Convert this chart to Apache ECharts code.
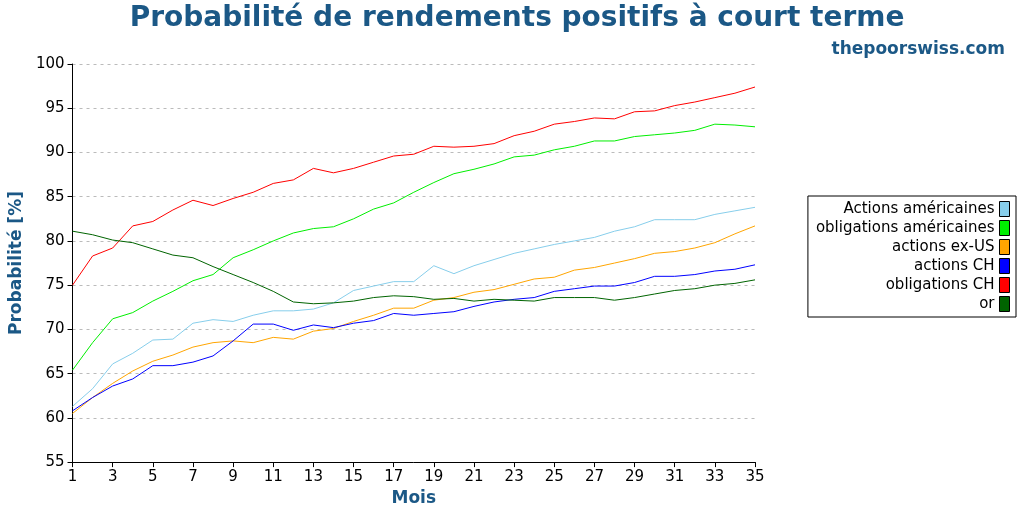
<!DOCTYPE html>
<html><head><meta charset="utf-8">
<script src="https://cdn.jsdelivr.net/npm/echarts@6/dist/echarts.min.js"></script>
<style>html,body{margin:0;padding:0;background:#fff}#c{width:1024px;height:512px}</style>
</head><body><div id="c"></div>
<script>
const months = Array.from({ length: 35 }, (_, i) => String(i + 1));
const usStocks = [61.3,63.3,66.1,67.3,68.8,68.9,70.7,71.1,70.9,71.6,72.1,72.1,72.3,73,74.4,74.9,75.4,75.4,77.2,76.3,77.2,77.9,78.6,79.1,79.6,80,80.4,81.1,81.6,82.4,82.4,82.4,83,83.4,83.8];
const usBonds = [65.4,68.5,71.2,71.9,73.2,74.3,75.5,76.2,78.1,79,80,80.9,81.4,81.6,82.5,83.6,84.3,85.5,86.6,87.6,88.1,88.7,89.5,89.7,90.3,90.7,91.3,91.3,91.8,92,92.2,92.5,93.2,93.1,92.9];
const exUsStocks = [60.5,62.3,63.9,65.3,66.4,67.1,68,68.5,68.7,68.5,69.1,68.9,69.8,70.1,70.9,71.6,72.4,72.4,73.3,73.6,74.2,74.5,75.1,75.7,75.9,76.7,77,77.5,78,78.6,78.8,79.2,79.8,80.8,81.7];
const chStocks = [60.8,62.3,63.6,64.4,65.9,65.9,66.3,67,68.7,70.6,70.6,69.9,70.5,70.2,70.7,71,71.8,71.6,71.8,72,72.6,73.1,73.4,73.6,74.3,74.6,74.9,74.9,75.3,76,76,76.2,76.6,76.8,77.3];
const chBonds = [75,78.3,79.2,81.7,82.2,83.5,84.6,84,84.8,85.5,86.5,86.9,88.2,87.7,88.2,88.9,89.6,89.8,90.7,90.6,90.7,91,91.9,92.4,93.2,93.5,93.9,93.8,94.6,94.7,95.3,95.7,96.2,96.7,97.4];
const gold = [81.1,80.7,80.1,79.8,79.1,78.4,78.1,77.1,76.2,75.3,74.3,73.1,72.9,73,73.2,73.6,73.8,73.7,73.4,73.5,73.2,73.4,73.3,73.2,73.6,73.6,73.6,73.3,73.6,74,74.4,74.6,75,75.2,75.6];

const seriesDefs = [
  ['Actions américaines', usStocks, '#87ceeb'],
  ['obligations américaines', usBonds, '#00ee00'],
  ['actions ex-US', exUsStocks, '#ffa500'],
  ['actions CH', chStocks, '#0000ff'],
  ['obligations CH', chBonds, '#ff0000'],
  ['or', gold, '#006400']
];

const chart = echarts.init(document.getElementById('c'));
chart.setOption({
  animation: false,
  textStyle: { fontFamily: 'DejaVu Sans' },
  title: [
    { text: 'Probabilité de rendements positifs à court terme', left: 512, textAlign: 'center', top: 0,
      textStyle: { fontSize: 28, fontWeight: 'bold', color: '#1b5886', fontFamily: 'DejaVu Sans' } },
    { text: 'thepoorswiss.com', right: 14, top: 36,
      textStyle: { fontSize: 17, fontWeight: 'bold', color: '#1b5886', fontFamily: 'DejaVu Sans' } }
  ],
  legend: {
    orient: 'vertical', right: 8, top: 196, align: 'right',
    itemWidth: 10, itemHeight: 15, itemGap: 3, padding: [5, 6, 5, 8],
    borderColor: '#000', borderWidth: 1, borderRadius: 0,
    icon: 'rect',
    textStyle: { fontSize: 15, color: '#000' },
    itemStyle: { borderColor: '#000', borderWidth: 1 },
    data: seriesDefs.map(d => d[0])
  },
  grid: { left: 66, right: 269, top: 64, bottom: 46 },
  xAxis: {
    type: 'category', data: months, boundaryGap: false,
    name: 'Mois', nameLocation: 'middle', nameGap: 24,
    nameTextStyle: { fontSize: 17, fontWeight: 'bold', color: '#1b5886' },
    axisLine: { lineStyle: { color: '#000' } },
    axisTick: { interval: 1, lineStyle: { color: '#000' } },
    axisLabel: { interval: 1, color: '#000', fontSize: 15 },
    splitLine: { show: false }
  },
  yAxis: {
    type: 'value', min: 55, max: 100, interval: 5,
    name: 'Probabilité [%]', nameLocation: 'middle', nameGap: 42, nameRotate: 90,
    nameTextStyle: { fontSize: 17, fontWeight: 'bold', color: '#1b5886' },
    axisLine: { show: true, lineStyle: { color: '#000' } },
    axisTick: { show: true, lineStyle: { color: '#000' } },
    axisLabel: { color: '#000', fontSize: 15 },
    splitLine: { lineStyle: { color: '#bbb', type: [3, 4] } }
  },
  series: seriesDefs.map(([name, data, color]) => ({
    name, type: 'line', data, color, symbol: 'none',
    lineStyle: { width: 1, color }
  }))
});
</script></body></html>
